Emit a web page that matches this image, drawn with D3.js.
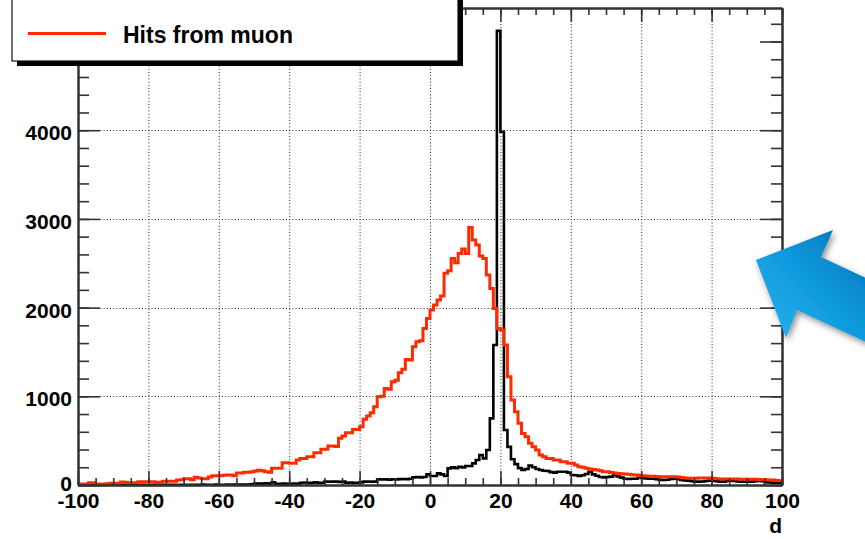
<!DOCTYPE html>
<html>
<head>
<meta charset="utf-8">
<script src="https://cdn.jsdelivr.net/npm/d3@7"></script>
<style>
  html, body { margin: 0; padding: 0; background: #fff; }
  svg { display: block; }
  text { font-family: "Liberation Sans", Arial, Helvetica, sans-serif; font-weight: bold; }
</style>
</head>
<body>
<svg id="chart" width="865" height="539"></svg>
<script>
// histogram binning: 200 bins of width 1 from -100 to 100
const xMin = -100;
const binWidth = 1;

// all hits (black), bins -100 .. 99
const allHits = [
  0, 0, 0, 0, 0, 0, 0, 0, 2, 10,
  8, 2, 0, 1, 0, 0, 2, 0, 1, 0,
  0, 2, 0, 1, 3, 0, 2, 1, 0, 3,
  2, 0, 3, 1, 2, 4, 2, 3, 1, 4,
  3, 2, 5, 3, 4, 6, 4, 5, 6, 8,
  16, 17, 15, 18, 16, 30, 14, 13, 15, 14,
  13, 15, 14, 26, 28, 24, 26, 30, 24, 26,
  38, 36, 40, 38, 34, 38, 26, 28, 24, 26,
  30, 38, 40, 36, 38, 64, 62, 64, 60, 64,
  62, 66, 68, 66, 70, 86, 90, 86, 90, 120,
  101, 101, 131, 120, 101, 188, 199, 190, 205, 199,
  214, 214, 244, 282, 338, 300, 394, 751, 1578, 5120,
  3983, 620, 430, 290, 235, 190, 170, 180, 218, 200,
  180, 169, 160, 158, 145, 139, 150, 150, 150, 140,
  113, 110, 101, 110, 124, 150, 120, 105, 90, 86,
  90, 94, 113, 95, 83, 71, 68, 71, 70, 82,
  80, 75, 71, 70, 65, 58, 56, 60, 68, 71,
  68, 58, 52, 49, 42, 38, 38, 40, 45, 49,
  49, 42, 38, 38, 45, 49, 45, 40, 38, 36,
  38, 38, 42, 45, 42, 32, 28, 26, 26, 24
];

// hits from muon (red), bins -100 .. 99
const muonHits = [
  11, 11, 11, 26, 26, 11, 11, 11, 15, 20,
  20, 20, 34, 30, 26, 26, 26, 37, 37, 37,
  37, 37, 26, 30, 41, 41, 41, 41, 56, 60,
  71, 71, 60, 86, 80, 71, 71, 90, 105, 105,
  105, 110, 113, 113, 105, 135, 135, 143, 143, 150,
  158, 165, 162, 150, 145, 188, 188, 190, 252, 250,
  244, 244, 282, 300, 300, 319, 319, 364, 364, 402,
  402, 440, 440, 435, 526, 552, 590, 590, 627, 627,
  657, 740, 778, 815, 883, 995, 1000, 1089, 1080, 1164,
  1180, 1266, 1304, 1416, 1409, 1559, 1615, 1627, 1765, 1878,
  1972, 2029, 2085, 2130, 2386, 2415, 2555, 2506, 2611, 2660,
  2611, 2904, 2761, 2705, 2581, 2555, 2367, 2216, 1991, 1765,
  1747, 1578, 1221, 958, 826, 695, 582, 545, 470, 432,
  394, 338, 319, 300, 300, 282, 282, 263, 263, 244,
  244, 225, 207, 200, 188, 180, 175, 169, 160, 150,
  148, 140, 135, 131, 128, 125, 120, 115, 113, 110,
  105, 101, 100, 98, 96, 94, 94, 94, 94, 92,
  90, 85, 80, 75, 75, 76, 78, 79, 80, 79,
  75, 70, 68, 68, 68, 67, 68, 68, 66, 65,
  66, 65, 64, 62, 60, 58, 56, 55, 52, 49
];

const xTicks = [-100, -80, -60, -40, -20, 0, 20, 40, 60, 80, 100];
const yTicks = [0, 1000, 2000, 3000, 4000, 5000];
const xGrid = [-80, -60, -40, -20, 0, 20, 40, 60, 80];
const yGrid = [1000, 2000, 3000, 4000];
const legendLabel = "Hits from muon";
const xTitle = "d";

const svg = d3.select("#chart");
const pLeft = 78, pRight = 782, pTop = 8, pBottom = 485;

const x = d3.scaleLinear().domain([-100, 100]).range([pLeft, pRight]);
const y = d3.scaleLinear().domain([0, 5378]).range([pBottom, pTop]);
const plain = d => String(d); // ROOT style: no thousands separator, ascii minus

// grid (dotted)
const grid = svg.append("g").attr("stroke", "#000").attr("stroke-width", 1)
  .attr("stroke-dasharray", "1,2.2").attr("opacity", 0.85);
grid.selectAll("line.gx").data(xGrid).join("line")
  .attr("x1", d => x(d) + 0.5).attr("x2", d => x(d) + 0.5)
  .attr("y1", pTop).attr("y2", pBottom);
grid.selectAll("line.gy").data(yGrid).join("line")
  .attr("x1", pLeft).attr("x2", pRight)
  .attr("y1", d => Math.round(y(d)) + 0.5).attr("y2", d => Math.round(y(d)) + 0.5);

// histogram outlines
function steps(values) {
  const pts = values.map((v, i) => [xMin + i * binWidth, v]);
  pts.push([xMin + values.length * binWidth, values[values.length - 1]]);
  return pts;
}
const line = d3.line().x(d => x(d[0])).y(d => y(d[1])).curve(d3.curveStepAfter);

svg.append("path").attr("d", line(steps(allHits)))
  .attr("fill", "none").attr("stroke", "#000").attr("stroke-width", 2.6);
svg.append("path").attr("d", line(steps(muonHits)))
  .attr("fill", "none").attr("stroke", "#ff2a00").attr("stroke-width", 3);

// axes with ROOT-like inner ticks on all four sides
const minorX = d3.range(-100, 100.1, 5);
const minorY = d3.range(0, 5378, 200);
function styleAxis(g) {
  g.selectAll(".domain").attr("stroke", "#333").attr("stroke-width", 2);
  g.selectAll(".tick line").attr("stroke", "#333").attr("stroke-width", 1.6);
}
svg.append("g").attr("transform", `translate(0,${pBottom})`)
  .call(d3.axisBottom(x).tickValues(minorX).tickSize(-7).tickSizeOuter(0).tickFormat(""))
  .call(styleAxis);
const xAxis = svg.append("g").attr("transform", `translate(0,${pBottom})`)
  .call(d3.axisBottom(x).tickValues(xTicks).tickSize(-14).tickSizeOuter(0).tickPadding(0).tickFormat(plain))
  .call(styleAxis);
xAxis.selectAll(".tick text").attr("y", 23).attr("dy", 0)
  .attr("font-size", 21).attr("fill", "#000").attr("font-family", null);

svg.append("g").attr("transform", `translate(0,${pTop})`)
  .call(d3.axisTop(x).tickValues(minorX).tickSize(-7).tickSizeOuter(0).tickFormat(""))
  .call(styleAxis);
svg.append("g").attr("transform", `translate(0,${pTop})`)
  .call(d3.axisTop(x).tickValues(xTicks).tickSize(-14).tickSizeOuter(0).tickFormat(""))
  .call(styleAxis);

svg.append("g").attr("transform", `translate(${pLeft},0)`)
  .call(d3.axisLeft(y).tickValues(minorY).tickSize(-11).tickSizeOuter(0).tickFormat(""))
  .call(styleAxis);
const yAxis = svg.append("g").attr("transform", `translate(${pLeft},0)`)
  .call(d3.axisLeft(y).tickValues(yTicks).tickSize(-22).tickSizeOuter(0).tickPadding(0).tickFormat(plain))
  .call(styleAxis);
yAxis.selectAll(".tick text").attr("x", -6).attr("dy", d => d === 0 ? "0.28em" : "0.45em")
  .attr("font-size", 21).attr("fill", "#000").attr("font-family", null);

svg.append("g").attr("transform", `translate(${pRight},0)`)
  .call(d3.axisRight(y).tickValues(minorY).tickSize(-11).tickSizeOuter(0).tickFormat(""))
  .call(styleAxis);
svg.append("g").attr("transform", `translate(${pRight},0)`)
  .call(d3.axisRight(y).tickValues(yTicks).tickSize(-22).tickSizeOuter(0).tickFormat(""))
  .call(styleAxis);

svg.append("text").attr("x", pRight).attr("y", 533).attr("text-anchor", "end")
  .attr("font-size", 21).text(xTitle);

// legend box with drop shadow
const legend = svg.append("g");
legend.append("rect").attr("x", 17).attr("y", -10).attr("width", 446).attr("height", 76).attr("fill", "#000");
legend.append("rect").attr("x", 12).attr("y", -15).attr("width", 446).attr("height", 76)
  .attr("fill", "#fff").attr("stroke", "#111").attr("stroke-width", 1.2);
legend.append("line").attr("x1", 28).attr("x2", 106).attr("y1", 33.5).attr("y2", 33.5)
  .attr("stroke", "#ff2a00").attr("stroke-width", 3);
legend.append("text").attr("x", 123).attr("y", 43).attr("font-size", 23).text(legendLabel);

// blue annotation arrow
const defs = svg.append("defs");
const grad = defs.append("linearGradient").attr("id", "arrowGrad")
  .attr("x1", "0%").attr("y1", "100%").attr("x2", "100%").attr("y2", "0%");
grad.append("stop").attr("offset", "0%").attr("stop-color", "#2db4f0");
grad.append("stop").attr("offset", "55%").attr("stop-color", "#0b98dc");
grad.append("stop").attr("offset", "100%").attr("stop-color", "#0070b0");
const shadow = defs.append("filter").attr("id", "arrowShadow")
  .attr("x", "-20%").attr("y", "-20%").attr("width", "140%").attr("height", "140%");
shadow.append("feDropShadow").attr("dx", 2).attr("dy", 3).attr("stdDeviation", 3)
  .attr("flood-color", "#000").attr("flood-opacity", 0.45);
const arrowPts = [[756, 260], [833, 230], [821, 257], [868, 279], [868, 343], [797, 310], [786, 338]];
svg.append("path").attr("d", d3.line()(arrowPts) + "Z")
  .attr("fill", "url(#arrowGrad)").attr("filter", "url(#arrowShadow)");
</script>
</body>
</html>
